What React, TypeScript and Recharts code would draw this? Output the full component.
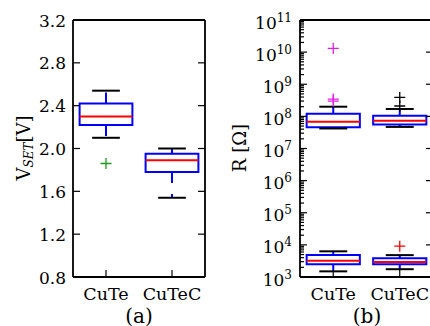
import React from 'react';
import { ComposedChart, XAxis, YAxis, ReferenceArea, ReferenceLine, Scatter } from 'recharts';

const categories = ['CuTe', 'CuTeC'];

// (a) set voltage per stack
const vsetLow = [2.1, 1.54];
const vsetQ1 = [2.22, 1.78];
const vsetMedian = [2.3, 1.89];
const vsetQ3 = [2.42, 1.95];
const vsetHigh = [2.54, 2.0];
const vsetFliers = [[1.86], []];
const vsetTicks = [0.8, 1.2, 1.6, 2.0, 2.4, 2.8, 3.2];

// (b) resistance, high resistance state
const hrsLow = [4.2e7, 4.7e7];
const hrsQ1 = [4.6e7, 5.6e7];
const hrsMedian = [6.8e7, 7.3e7];
const hrsQ3 = [1.2e8, 1.05e8];
const hrsHigh = [2.0e8, 1.7e8];
const hrsFliers = [[3.0e8, 3.45e8, 1.3e10], [2.1e8, 3.9e8]];

// (b) resistance, low resistance state
const lrsLow = [1.5e3, 1.75e3];
const lrsQ1 = [2.5e3, 2.5e3];
const lrsMedian = [3.2e3, 2.95e3];
const lrsQ3 = [4.8e3, 3.8e3];
const lrsHigh = [6.3e3, 4.8e3];
const lrsFliers = [[], [9.1e3]];

const decadeTicks = [1e3, 1e4, 1e5, 1e6, 1e7, 1e8, 1e9, 1e10, 1e11];
const minorTicks = decadeTicks.slice(0, -1).flatMap((d) => [2, 3, 4, 5, 6, 7, 8, 9].map((m) => m * d));
const categoryTicks = [1, 2];

const BLUE = '#0000ff';
const RED = '#ff0000';
const FONT = 'DejaVu Serif';
const fontStyle = { fontFamily: FONT };
const BOX_HALF = 0.4;
const CAP_HALF = 0.21;
const TS = 6; // tickSize / tickMargin handed to every axis, so custom ticks can find the axis line
const TM = 2;
const MAJOR = 7;
const MINOR = 4;

type Stats = { low: number[]; q1: number[]; median: number[]; q3: number[]; high: number[] };
const ax = { xAxisId: 'b', yAxisId: 'l' };

function boxMarks(key: string, s: Stats) {
  return categories.flatMap((_, i) => {
    const c = i + 1;
    return [
      <ReferenceLine key={`${key}-wl${i}`} {...ax} segment={[{ x: c, y: s.q1[i] }, { x: c, y: s.low[i] }]}
        stroke={BLUE} strokeWidth={2} strokeDasharray="11 11" />,
      <ReferenceLine key={`${key}-wh${i}`} {...ax} segment={[{ x: c, y: s.q3[i] }, { x: c, y: s.high[i] }]}
        stroke={BLUE} strokeWidth={2} strokeDasharray="11 11" />,
      <ReferenceLine key={`${key}-cl${i}`} {...ax} segment={[{ x: c - CAP_HALF, y: s.low[i] }, { x: c + CAP_HALF, y: s.low[i] }]}
        stroke="#000" strokeWidth={2} />,
      <ReferenceLine key={`${key}-ch${i}`} {...ax} segment={[{ x: c - CAP_HALF, y: s.high[i] }, { x: c + CAP_HALF, y: s.high[i] }]}
        stroke="#000" strokeWidth={2} />,
      <ReferenceArea key={`${key}-b${i}`} {...ax} x1={c - BOX_HALF} x2={c + BOX_HALF} y1={s.q1[i]} y2={s.q3[i]}
        stroke={BLUE} strokeWidth={2} fill="#fff" fillOpacity={0} />,
      <ReferenceLine key={`${key}-m${i}`} {...ax} segment={[{ x: c - BOX_HALF, y: s.median[i] }, { x: c + BOX_HALF, y: s.median[i] }]}
        stroke={RED} strokeWidth={2} />,
    ];
  });
}

function flierPoints(fliers: number[][]) {
  return fliers.flatMap((vals, i) => vals.map((v) => ({ x: i + 1, y: v })));
}

function Plus(props: any) {
  const { cx, cy, color } = props;
  const r = 5.5;
  return <path d={`M${cx - r},${cy}H${cx + r}M${cx},${cy - r}V${cy + r}`} stroke={color} strokeWidth={1.3} fill="none" />;
}

const isDecade = (v: number) => Math.abs(Math.log10(v) - Math.round(Math.log10(v))) < 1e-6;

function LeftTick(props: any) {
  const { x, y, payload, log } = props;
  const axX = x + TS + TM;
  const v = payload.value as number;
  const major = !log || isDecade(v);
  return (
    <g>
      <line x1={axX} x2={axX + (major ? MAJOR : MINOR)} y1={y} y2={y} stroke="#000" strokeWidth={1.2} />
      {major && !log && (
        <text x={axX - 7} y={y} dy={6.5} textAnchor="end" style={fontStyle} fontSize={17} fill="#000">
          {v.toFixed(1)}
        </text>
      )}
      {major && log && (
        <text x={axX - 8} y={y + 8.5} textAnchor="end" style={fontStyle} fill="#000">
          <tspan fontSize={17}>10</tspan>
          <tspan fontSize={12} dy={-7}>{Math.round(Math.log10(v))}</tspan>
        </text>
      )}
    </g>
  );
}

function RightTick(props: any) {
  const { x, y } = props;
  const axX = x - TS - TM;
  return <line x1={axX} x2={axX - MAJOR} y1={y} y2={y} stroke="#000" strokeWidth={1.2} />;
}

function TopTick(props: any) {
  const { x, y } = props;
  const axY = y + TS + TM;
  return <line x1={x} x2={x} y1={axY} y2={axY + MAJOR} stroke="#000" strokeWidth={1.2} />;
}

function BottomTick(props: any) {
  const { x, y, payload } = props;
  const axY = y - TS - TM;
  return (
    <g>
      <line x1={x} x2={x} y1={axY} y2={axY - MAJOR} stroke="#000" strokeWidth={1.2} />
      <text x={x} y={axY + 23} textAnchor="middle" style={fontStyle} fontSize={17.5} fill="#000">
        {categories[payload.value - 1]}
      </text>
    </g>
  );
}

const spine = { stroke: '#000', strokeWidth: 1.8 };
const common = { tickLine: false, tickSize: TS, tickMargin: TM, interval: 0 as const, allowDataOverflow: true, axisLine: spine };

function Frame({ yDomain, yTicks, rightTicks, log, leftWidth }: {
  yDomain: [number, number]; yTicks: number[]; rightTicks: number[]; log: boolean; leftWidth: number;
}) {
  return [
    <XAxis key="xb" xAxisId="b" type="number" dataKey="x" orientation="bottom" height={30} domain={[0.5, 2.5]}
      ticks={categoryTicks} tick={(p: any) => <BottomTick {...p} />} {...common} />,
    <XAxis key="xt" xAxisId="t" type="number" orientation="top" height={1} domain={[0.5, 2.5]}
      ticks={categoryTicks} tick={(p: any) => <TopTick {...p} />} {...common} />,
    <YAxis key="yl" yAxisId="l" type="number" dataKey="y" orientation="left" width={leftWidth} domain={yDomain}
      scale={log ? 'log' : 'linear'} ticks={yTicks} tick={(p: any) => <LeftTick {...p} log={log} />} {...common} />,
    <YAxis key="yr" yAxisId="r" type="number" orientation="right" width={5} domain={yDomain}
      scale={log ? 'log' : 'linear'} ticks={rightTicks} tick={(p: any) => <RightTick {...p} />} {...common} />,
  ];
}

function VoltagePanel() {
  return (
    <ComposedChart width={215} height={326} margin={{ top: 19, right: 5, bottom: 19, left: 0 }}>
      {Frame({ yDomain: [0.8, 3.2], yTicks: vsetTicks, rightTicks: vsetTicks, log: false, leftWidth: 73 })}
      {boxMarks('v', { low: vsetLow, q1: vsetQ1, median: vsetMedian, q3: vsetQ3, high: vsetHigh })}
      <Scatter {...ax} data={flierPoints(vsetFliers)} isAnimationActive={false}
        shape={(p: any) => <Plus {...p} color="#1e9a1e" />} />
    </ComposedChart>
  );
}

function ResistancePanel() {
  return (
    <ComposedChart width={230} height={326} margin={{ top: 19, right: 7, bottom: 19, left: 0 }}>
      {Frame({ yDomain: [1e3, 1e11], yTicks: [...decadeTicks, ...minorTicks], rightTicks: decadeTicks, log: true, leftWidth: 85 })}
      {boxMarks('h', { low: hrsLow, q1: hrsQ1, median: hrsMedian, q3: hrsQ3, high: hrsHigh })}
      {boxMarks('r', { low: lrsLow, q1: lrsQ1, median: lrsMedian, q3: lrsQ3, high: lrsHigh })}
      <Scatter {...ax} data={flierPoints([hrsFliers[0], []])} isAnimationActive={false}
        shape={(p: any) => <Plus {...p} color="#e020e0" />} />
      <Scatter {...ax} data={flierPoints([[], hrsFliers[1]])} isAnimationActive={false}
        shape={(p: any) => <Plus {...p} color="#000" />} />
      <Scatter {...ax} data={flierPoints(lrsFliers)} isAnimationActive={false}
        shape={(p: any) => <Plus {...p} color={RED} />} />
    </ComposedChart>
  );
}

export default function App() {
  return (
    <div style={{ position: 'absolute', left: 0, top: 0, width: 430, height: 326, overflow: 'hidden', background: '#fff', fontFamily: FONT }}>
      <div style={{ position: 'absolute', left: 0, top: 0 }}>
        <VoltagePanel />
      </div>
      <div style={{ position: 'absolute', left: 215, top: 0 }}>
        <ResistancePanel />
      </div>
      <svg width={430} height={326} style={{ position: 'absolute', left: 0, top: 0, pointerEvents: 'none', fontFamily: FONT }}
        fill="#000">
        <text transform="translate(30,148) rotate(-90)" textAnchor="middle" fontSize={18}>
          V<tspan fontSize={12} fontStyle="italic" dy={3}>SET</tspan>
          <tspan dy={-3}>[V]</tspan>
        </text>
        <text transform="translate(246,148) rotate(-90)" textAnchor="middle" fontSize={18}>R [Ω]</text>
        <text x={139} y={322.5} textAnchor="middle" fontSize={20}>(a)</text>
        <text x={367} y={322.5} textAnchor="middle" fontSize={20}>(b)</text>
      </svg>
    </div>
  );
}
